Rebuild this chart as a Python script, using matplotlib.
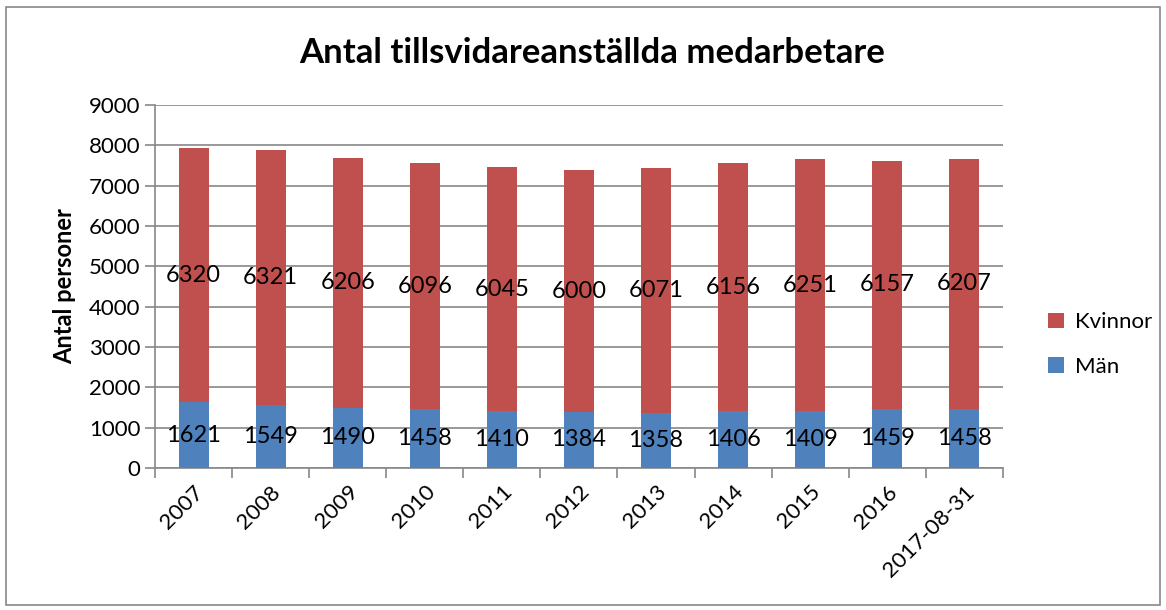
import matplotlib.pyplot as plt
import numpy as np
from matplotlib.patches import Rectangle

plt.rcParams['font.family'] = ['Lato', 'DejaVu Sans']

years = ['2007', '2008', '2009', '2010', '2011', '2012', '2013', '2014',
         '2015', '2016', '2017-08-31']
man = [1621, 1549, 1490, 1458, 1410, 1384, 1358, 1406, 1409, 1459, 1458]
kvinnor = [6320, 6321, 6206, 6096, 6045, 6000, 6071, 6156, 6251, 6157, 6207]

blue = '#4F81BD'
red = '#C0504D'
grey = '#888888'

fig = plt.figure(figsize=(11.66, 6.10), dpi=100)
ax = fig.add_axes([0.133, 0.233, 0.727, 0.595])

x = np.arange(len(years))
b1 = ax.bar(x, man, width=0.39, color=blue, label='Män', zorder=3)
b2 = ax.bar(x, kvinnor, width=0.39, bottom=man, color=red, label='Kvinnor', zorder=3)

ax.bar_label(b1, labels=[str(v) for v in man], label_type='center', fontsize=17, zorder=4)
ax.bar_label(b2, labels=[str(v) for v in kvinnor], label_type='center', fontsize=17, zorder=4)

ax.set_xlim(-0.5, len(years) - 0.5)
ax.set_ylim(0, 9000)
ax.set_yticks(range(0, 9001, 1000))
ax.tick_params(axis='y', labelsize=16, length=7, color=grey, width=1.2)
ax.yaxis.grid(True, color=grey, linewidth=1.2, zorder=0)

ax.set_xticks(x)
ax.set_xticklabels(years, rotation=45, ha='right', rotation_mode='anchor', fontsize=16)
ax.tick_params(axis='x', which='major', length=0, pad=10)
ax.set_xticks(np.arange(-0.5, len(years)), minor=True)
ax.tick_params(axis='x', which='minor', length=7, color=grey, width=1.2)

for s in ['top', 'right']:
    ax.spines[s].set_visible(False)
for s in ['left', 'bottom']:
    ax.spines[s].set_color(grey)
    ax.spines[s].set_linewidth(1.2)

ax.set_ylabel('Antal personer', fontsize=17, fontweight='bold', labelpad=9)
fig.text(0.508, 0.913, 'Antal tillsvidareanställda medarbetare', ha='center', va='center',
         fontsize=25, fontweight='bold')

h, l = ax.get_legend_handles_labels()
ax.legend(h[::-1], l[::-1], loc='center left', bbox_to_anchor=(1.03, 0.34), frameon=False,
          fontsize=16, handlelength=0.7, handleheight=0.7, labelspacing=1.1,
          handletextpad=0.5)

fig.patches.append(Rectangle((0.005, 0.008), 0.99, 0.98, transform=fig.transFigure,
                             fill=False, edgecolor=grey, linewidth=1.2))

fig.savefig('out.png', dpi=100)
